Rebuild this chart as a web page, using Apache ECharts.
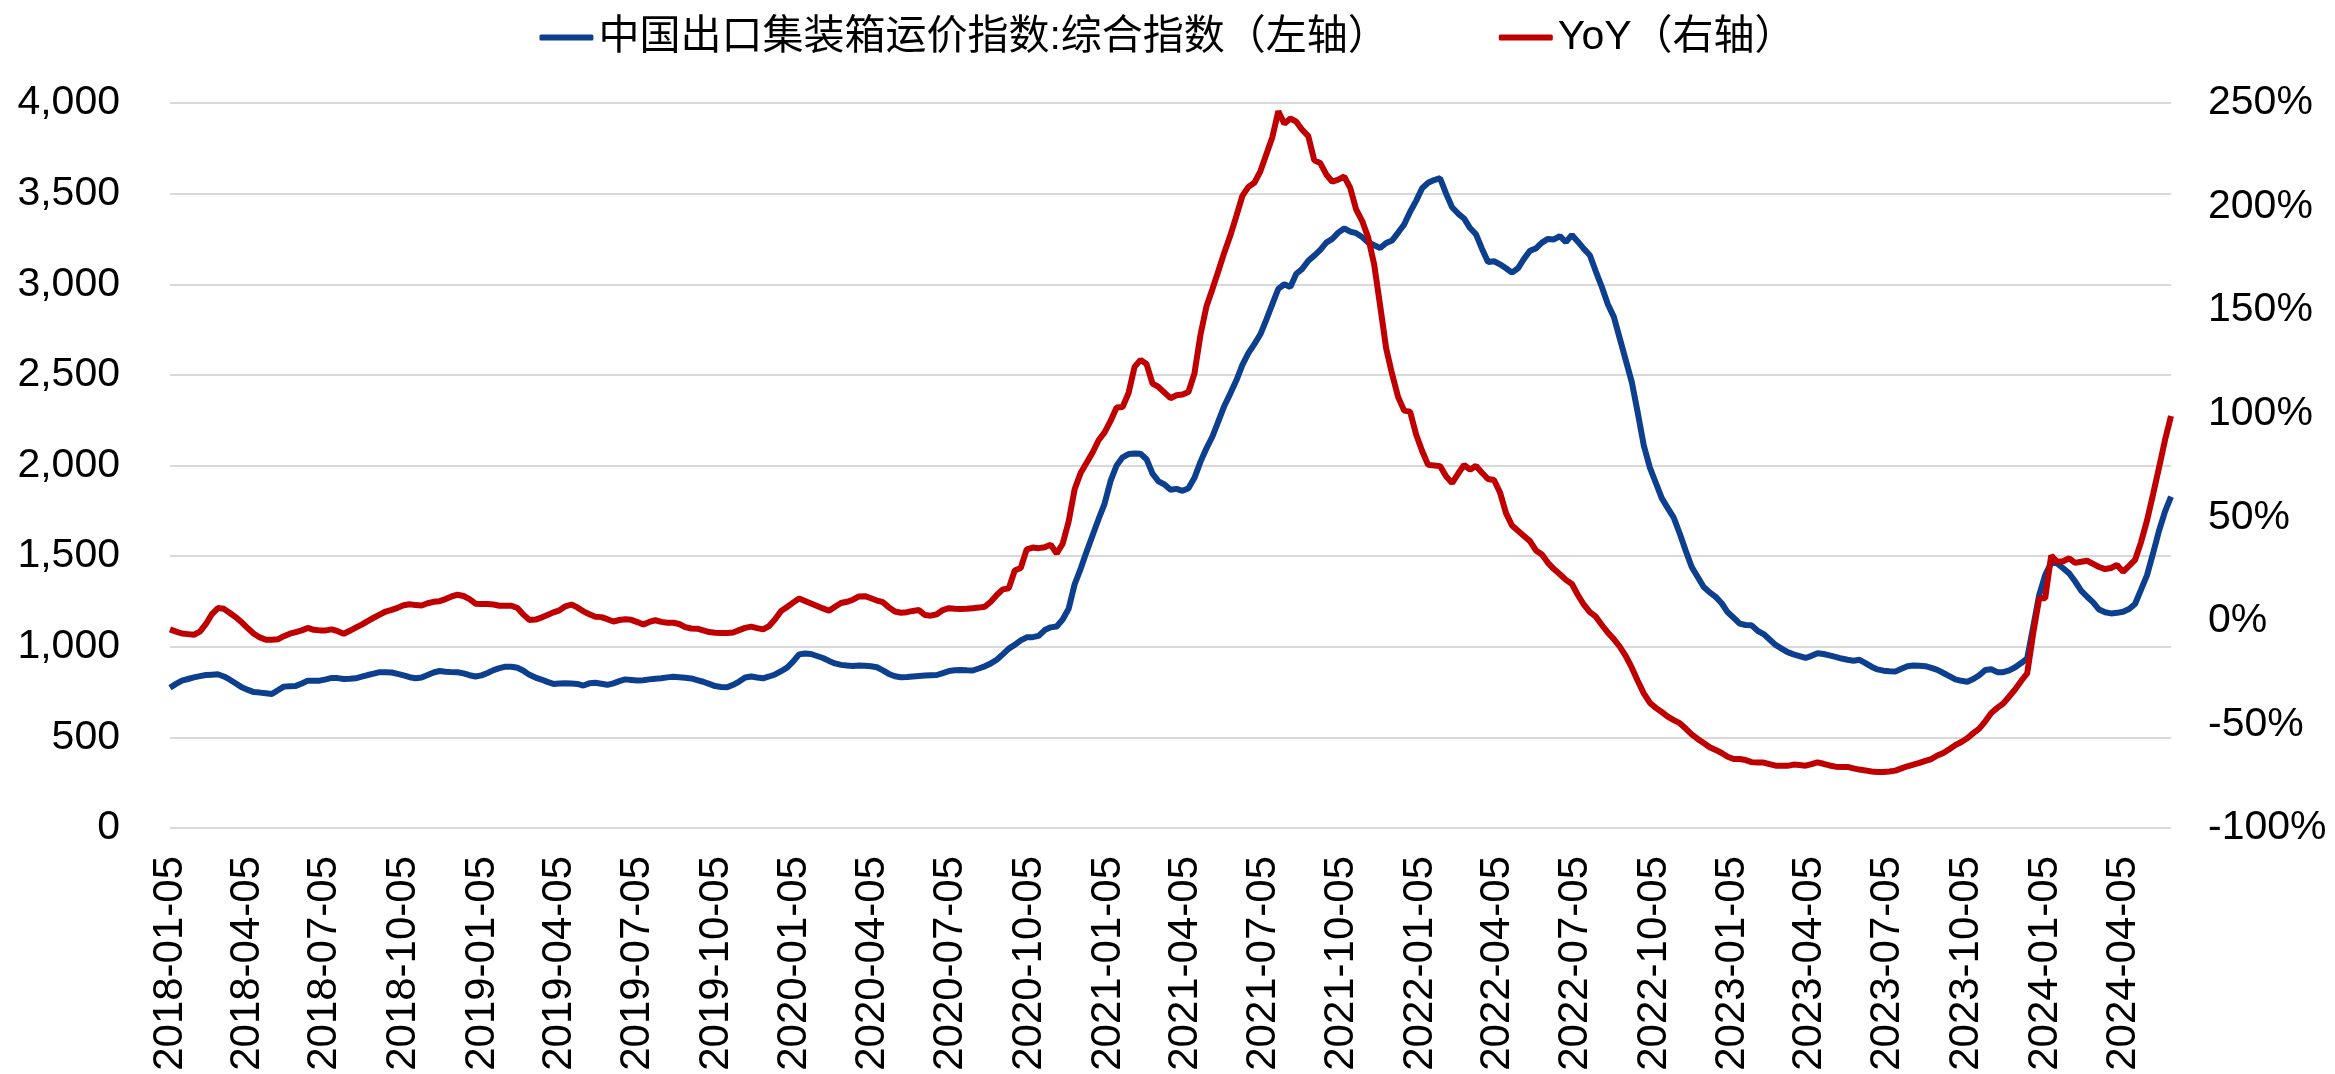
<!DOCTYPE html>
<html lang="zh">
<head>
<meta charset="UTF-8">
<title>CCFI</title>
<script src="https://cdn.jsdelivr.net/npm/echarts@6/dist/echarts.min.js"></script>
<style>
  html, body { margin: 0; padding: 0; background: #fff; }
  #main { width: 2335px; height: 1074px; }
</style>
</head>
<body>
<div id="main"></div>
<script>
// 周度数据，起始 2018-01-05，每周一个点
var startDate = '2018-01-05';

// 中国出口集装箱运价指数:综合指数
var ccfi = [
  774,795,813,822,831,838,844,846,848,836,
  818,797,776,762,750,747,743,739,760,780,
  782,784,797,813,813,813,820,828,827,822,
  823,826,835,844,852,860,859,858,850,842,
  832,826,830,844,858,866,862,860,859,853,
  843,836,842,855,871,882,890,890,884,868,
  845,830,819,806,795,797,798,797,795,786,
  798,801,796,790,798,810,820,817,814,815,
  820,824,826,831,835,832,829,825,816,807,
  795,783,778,776,790,808,830,836,830,826,
  836,847,865,885,918,958,963,960,949,938,
  922,908,900,896,894,897,895,892,887,870,
  850,837,832,833,836,839,841,843,844,855,
  866,870,872,870,869,880,892,908,928,958,
  990,1010,1035,1052,1053,1060,1092,1107,1112,1150,
  1210,1345,1430,1525,1615,1705,1790,1915,2000,2045,
  2063,2066,2065,2035,1955,1912,1895,1866,1871,1860,
  1875,1932,2020,2095,2160,2245,2330,2398,2470,2555,
  2620,2670,2724,2805,2890,2975,3000,2985,3058,3085,
  3130,3158,3190,3230,3250,3285,3308,3290,3282,3260,
  3230,3215,3200,3228,3242,3285,3330,3400,3460,3530,
  3560,3575,3585,3500,3425,3390,3363,3310,3275,3195,
  3123,3127,3110,3088,3064,3088,3140,3185,3198,3230,
  3250,3247,3265,3232,3272,3235,3195,3160,3070,2985,
  2890,2820,2700,2580,2460,2290,2110,1990,1905,1820,
  1765,1712,1625,1530,1440,1385,1330,1300,1275,1240,
  1190,1160,1128,1120,1118,1088,1070,1040,1010,990,
  970,958,948,938,950,964,960,952,944,935,
  928,923,928,910,890,875,868,865,864,878,
  892,896,895,893,883,872,855,838,820,812,
  807,822,843,872,876,860,860,870,887,910,
  936,1110,1285,1395,1463,1460,1433,1405,1360,1310,
  1276,1245,1205,1190,1184,1187,1193,1208,1236,1315,
  1395,1515,1640,1745,1828
];

// YoY (%)
var yoy = [
  -4.1,-5.2,-6.1,-6.4,-6.7,-5.2,-1.5,3.3,6.2,5.8,
  3.8,1.7,-0.8,-3.6,-6.2,-8.0,-9.1,-9.1,-8.9,-7.4,
  -6.2,-5.4,-4.6,-3.4,-4.3,-4.6,-4.6,-4.1,-5.0,-6.2,
  -4.8,-3.3,-1.8,-0.1,1.5,3.0,4.5,5.3,6.3,7.5,
  8.0,7.6,7.4,8.5,9.2,9.5,10.5,11.8,12.6,12.0,
  10.5,8.3,8.1,8.1,7.9,7.3,7.3,7.3,6.2,3.0,
  0.4,0.6,1.6,2.8,4.1,5.1,7.0,7.9,6.5,4.6,
  3.2,2.0,1.8,0.8,-0.3,0.4,0.8,0.5,-0.6,-1.8,
  -0.5,0.3,-0.5,-0.9,-0.9,-1.5,-3.0,-3.7,-3.8,-4.6,
  -5.4,-5.7,-5.9,-5.9,-5.6,-4.5,-3.4,-2.8,-3.5,-4.1,
  -2.5,0.8,4.8,6.7,8.8,10.8,9.6,8.4,7.2,6.0,
  4.9,6.8,8.6,9.2,10.2,11.8,11.9,10.9,9.8,9.0,
  6.5,4.5,3.9,4.2,4.8,5.2,2.8,2.5,3.2,5.2,
  6.1,5.8,5.7,5.8,6.1,6.4,6.8,9.2,12.5,15.2,
  15.7,24.3,25.5,34.5,35.4,35.1,35.5,36.8,32.5,37.2,
  48.0,63.5,71.4,76.3,81.3,87.2,91.0,96.5,103.0,103.2,
  110.0,122.6,126.0,124.0,114.5,112.9,110.2,107.5,108.9,109.3,
  110.5,119.5,138.0,151.8,160.2,169.0,178.0,186.1,195.5,205.2,
  209.5,211.5,217.0,225.3,233.5,246.0,240.0,242.5,241.0,237.0,
  234.0,222.3,221.0,215.5,212.0,213.0,214.5,209.0,198.5,193.0,
  185.0,172.0,152.0,131.5,119.0,108.0,101.5,101.0,90.0,82.0,
  75.3,75.0,74.7,69.8,66.5,71.0,75.3,73.0,74.8,71.5,
  68.5,68.0,62.0,52.0,46.0,43.5,41.0,38.5,34.0,32.0,
  28.0,25.0,22.5,19.8,17.8,12.5,7.8,4.2,2.0,-2.0,
  -5.7,-8.8,-12.5,-17.0,-22.6,-29.0,-35.0,-39.5,-42.0,-44.0,
  -46.2,-47.9,-49.4,-52.0,-54.8,-57.0,-59.0,-61.0,-62.3,-63.8,
  -65.6,-66.7,-66.7,-67.2,-68.2,-68.4,-68.4,-69.2,-69.9,-70.0,
  -70.0,-69.4,-69.6,-69.9,-69.2,-68.3,-69.0,-69.8,-70.4,-70.5,
  -70.5,-71.2,-71.8,-72.2,-72.7,-73.0,-73.0,-72.7,-72.3,-71.2,
  -70.2,-69.4,-68.6,-67.6,-66.7,-65.0,-63.8,-62.0,-60.0,-58.5,
  -56.7,-54.2,-52.0,-48.5,-44.5,-42.0,-39.9,-36.5,-33.0,-29.0,
  -25.3,-6.0,10.9,10.9,31.5,28.5,28.8,30.2,28.0,28.5,
  29.0,27.5,26.0,25.0,25.5,27.0,23.7,26.5,29.4,38.0,
  48.5,61.0,74.0,87.3,98.9
];

// x轴刻度标签
var tickLabels = [
  '2018-01-05','2018-04-05','2018-07-05','2018-10-05',
  '2019-01-05','2019-04-05','2019-07-05','2019-10-05',
  '2020-01-05','2020-04-05','2020-07-05','2020-10-05',
  '2021-01-05','2021-04-05','2021-07-05','2021-10-05',
  '2022-01-05','2022-04-05','2022-07-05','2022-10-05',
  '2023-01-05','2023-04-05','2023-07-05','2023-10-05',
  '2024-01-05','2024-04-05'
];

// x 用距起始日的天数表示
var DAY = 86400000;
var t0 = Date.parse(startDate);
function dayOf(s) { return Math.round((Date.parse(s) - t0) / DAY); }
function fmtDay(d) { return new Date(t0 + d * DAY).toISOString().slice(0, 10); }

var days = ccfi.map(function (v, i) { return i * 7; });
var lastDay = days[days.length - 1];

var chart = echarts.init(document.getElementById('main'));
var option = {
  animation: false,
  color: ['#0d3f8f', '#c00000'],
  legend: {
    top: 12,
    left: 'center',
    itemWidth: 54,
    itemHeight: 6,
    itemGap: 110,
    icon: 'roundRect',
    textStyle: {
      fontFamily: '"Liberation Sans", "Noto Sans CJK SC", sans-serif',
      fontSize: 41,
      color: '#000'
    },
    data: ['中国出口集装箱运价指数:综合指数（左轴）', 'YoY（右轴）']
  },
  grid: {
    left: 170,
    right: 164,
    top: 103,
    bottom: 246,
    containLabel: false
  },
  xAxis: {
    type: 'value',
    min: 0,
    max: lastDay,
    axisLine: { show: false },
    axisTick: { show: false },
    splitLine: { show: false },
    axisLabel: {
      customValues: tickLabels.map(dayOf),
      rotate: 90,
      margin: 28,
      fontFamily: '"Liberation Sans", Arial, sans-serif',
      fontSize: 42,
      color: '#000',
      formatter: function (v) { return fmtDay(v); }
    }
  },
  yAxis: [{
    type: 'value',
    min: 0,
    max: 4000,
    interval: 500,
    position: 'left',
    axisLine: { show: false },
    axisTick: { show: false },
    splitLine: { lineStyle: { color: '#d9d9d9', width: 2 } },
    axisLabel: {
      margin: 50,
      fontFamily: '"Liberation Sans", Arial, sans-serif',
      fontSize: 41,
      color: '#000',
      formatter: function (v) { return v.toLocaleString('en-US'); }
    }
  }, {
    type: 'value',
    min: -100,
    max: 250,
    interval: 50,
    position: 'right',
    axisLine: { show: false },
    axisTick: { show: false },
    splitLine: { show: false },
    axisLabel: {
      margin: 37,
      fontFamily: '"Liberation Sans", Arial, sans-serif',
      fontSize: 41,
      color: '#000',
      formatter: '{value}%'
    }
  }],
  series: [{
    name: '中国出口集装箱运价指数:综合指数（左轴）',
    type: 'line',
    yAxisIndex: 0,
    showSymbol: false,
    lineStyle: { width: 6, color: '#0d3f8f' },
    data: days.map(function (d, i) { return [d, ccfi[i]]; })
  }, {
    name: 'YoY（右轴）',
    type: 'line',
    yAxisIndex: 1,
    showSymbol: false,
    lineStyle: { width: 6, color: '#c00000' },
    data: days.map(function (d, i) { return [d, yoy[i]]; })
  }]
};
chart.setOption(option);
</script>
</body>
</html>
